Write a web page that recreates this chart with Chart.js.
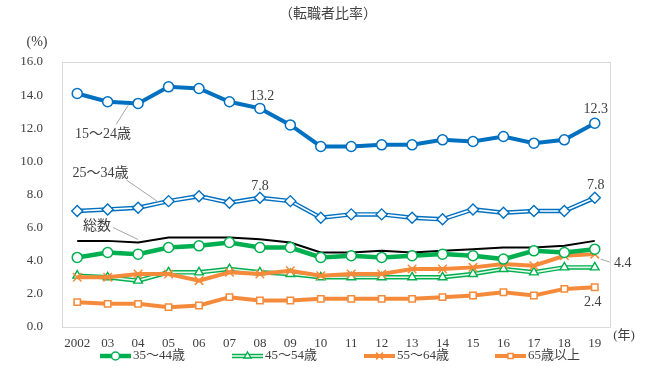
<!DOCTYPE html>
<html>
<head>
<meta charset="utf-8">
<script src="https://cdn.jsdelivr.net/npm/chart.js@4/dist/chart.umd.min.js"></script>
<style>
body{margin:0;background:#fff;}
</style>
</head>
<body>
<canvas id="jobChart" width="647" height="367"></canvas>
<script>
// 年（x軸）
var years = ['2002','03','04','05','06','07','08','09','10','11','12','13','14','15','16','17','18','19'];
// 転職者比率 (%)
var total     = [5.2,5.2,5.1,5.4,5.4,5.4,5.3,5.1,4.5,4.5,4.6,4.5,4.6,4.7,4.8,4.8,4.9,5.2];
var age15_24  = [14.1,13.6,13.5,14.5,14.4,13.6,13.2,12.2,10.9,10.9,11.0,11.0,11.3,11.2,11.5,11.1,11.3,12.3];
var age25_34  = [7.0,7.1,7.2,7.6,7.9,7.5,7.8,7.6,6.6,6.8,6.8,6.6,6.5,7.1,6.9,7.0,7.0,7.8];
var age35_44  = [4.2,4.5,4.4,4.8,4.9,5.1,4.8,4.8,4.2,4.3,4.2,4.3,4.4,4.3,4.1,4.6,4.5,4.7];
var age45_54  = [3.1,3.0,2.8,3.3,3.3,3.5,3.3,3.2,3.0,3.0,3.0,3.0,3.0,3.2,3.5,3.3,3.6,3.6];
var age55_64  = [3.0,3.0,3.2,3.2,2.8,3.3,3.2,3.4,3.1,3.2,3.2,3.5,3.5,3.6,3.8,3.7,4.3,4.4];
var age65over = [1.5,1.4,1.4,1.2,1.3,1.8,1.6,1.6,1.7,1.7,1.7,1.7,1.8,1.9,2.1,1.9,2.3,2.4];
// y軸目盛
var yTicks = [0,2,4,6,8,10,12,14,16];

var BLUE = '#0070C0', GREEN = '#00B050', ORANGE = '#F58A3A';
var SERIF = "'Liberation Serif', 'Noto Sans CJK JP', serif";
var TEXT = '#404040';

// 二重線（外側 + 内側の白線 + マーカー）を作る
function doubleLine(label, data, color, inner, style, r, order){
	return [
		{label:label, data:data, borderColor:color, borderWidth:4.5, pointRadius:0, order:order+2},
		{label:label+'_in', data:data, borderColor:inner, borderWidth:1.6, pointRadius:0, order:order+1},
		{label:label+'_pt', data:data, showLine:false, pointStyle:style, pointRadius:r, pointBorderWidth:1.4,
			pointBackgroundColor:'#fff', pointBorderColor:color, borderColor:color, order:order}
	];
}
function line(label, data, color, width, style, r, order){
	return {label:label, data:data, borderColor:color, borderWidth:width, pointStyle:style,
		pointRadius:r, pointBorderWidth:1.5, pointBackgroundColor:'#fff', pointBorderColor:color, order:order};
}

var datasets = [
	line('15～24歳', age15_24, BLUE, 4, 'circle', 5, 0),
	line('総数', total, '#000', 2, 'circle', 0, 20),
	line('35～44歳', age35_44, GREEN, 4.5, 'circle', 5, 10),
	line('55～64歳', age55_64, ORANGE, 4, 'crossRot', 6, 12),
	line('65歳以上', age65over, ORANGE, 4, 'rect', 4.5, 14)
].concat(doubleLine('25～34歳', age25_34, BLUE, '#fff', 'rectRot', 5.5, 2))
 .concat(doubleLine('45～54歳', age45_54, GREEN, '#e6f6ea', 'triangle', 5, 15));

function dsByLabel(chart, label){
	return chart.data.datasets.findIndex(function(d){ return d.label == label; });
}

// 直接ラベル（データ点からのずらし量）
var notes = [
	{ds:'15～24歳', i:6, text:'13.2', dx:2, dy:-12},
	{ds:'15～24歳', i:17, text:'12.3', dx:1, dy:-14},
	{ds:'25～34歳_pt', i:6, text:'7.8', dx:0, dy:-11},
	{ds:'25～34歳_pt', i:17, text:'7.8', dx:1, dy:-12},
	{ds:'55～64歳', i:17, text:'4.4', dx:28, dy:9, lead:[6,5,15,8]},
	{ds:'65歳以上', i:17, text:'2.4', dx:-2, dy:15}
];
// 引き出し線つきの系列名
var tags = [
	{ds:'15～24歳', i:2, text:'15～24歳', dx:-35, dy:31, lead:[-10,2,-22,21]},
	{ds:'25～34歳_pt', i:3, text:'25～34歳', dx:-68, dy:-28, lead:[-10,1,-42,-21]},
	{ds:'総数', i:2, text:'総数', dx:-41, dy:-16, lead:[0,-3,-25,-15]}
];
// 凡例
var legendItems = [
	{ds:'35～44歳', x:100, text:'35～44歳'},
	{ds:'45～54歳_pt', x:232, text:'45～54歳', dbl:'45～54歳'},
	{ds:'55～64歳', x:364, text:'55～64歳'},
	{ds:'65歳以上', x:495, text:'65歳以上'}
];

function drawMarker(ctx, ds, x, y, scale){
	ctx.save();
	ctx.fillStyle = ds.pointBackgroundColor;
	ctx.strokeStyle = ds.pointBorderColor;
	ctx.lineWidth = ds.pointBorderWidth;
	Chart.helpers.drawPoint(ctx, {pointStyle:ds.pointStyle, radius:ds.pointRadius*scale, borderWidth:ds.pointBorderWidth, rotation:0}, x, y);
	ctx.restore();
}

var decor = {
	id:'decor',
	beforeDraw:function(chart){
		var ctx = chart.ctx, a = chart.chartArea;
		ctx.save();
		ctx.fillStyle = '#fff';
		ctx.fillRect(0,0,chart.width,chart.height);
		ctx.strokeStyle = '#d9d9d9';
		ctx.lineWidth = 1;
		ctx.strokeRect(Math.round(a.left)+0.5, Math.round(a.top)+0.5, Math.round(a.right-a.left), Math.round(a.bottom-a.top));
		ctx.restore();
	},
	afterDatasetsDraw:function(chart){
		var ctx = chart.ctx;
		ctx.save();
		ctx.fillStyle = TEXT;
		ctx.textAlign = 'center';
		ctx.textBaseline = 'middle';
		ctx.font = '14px ' + SERIF;
		ctx.fillText('（転職者比率）', 328, 14);
		ctx.fillText('(%)', 37, 42);
		ctx.font = '13px ' + SERIF;
		ctx.fillText('(年)', 624, 336);

		// 数値ラベルと系列名
		ctx.font = '14px ' + SERIF;
		notes.concat(tags).forEach(function(n){
			var el = chart.getDatasetMeta(dsByLabel(chart, n.ds)).data[n.i];
			if(n.lead){
				ctx.strokeStyle = '#a6a6a6';
				ctx.lineWidth = 1;
				ctx.beginPath();
				ctx.moveTo(el.x + n.lead[0], el.y + n.lead[1]);
				ctx.lineTo(el.x + n.lead[2], el.y + n.lead[3]);
				ctx.stroke();
			}
			ctx.fillStyle = TEXT;
			ctx.fillText(n.text, el.x + n.dx, el.y + n.dy);
		});

		// 凡例
		var ly = 356;
		ctx.textAlign = 'left';
		ctx.font = '13px ' + SERIF;
		legendItems.forEach(function(it){
			var ds = chart.data.datasets[dsByLabel(chart, it.ds)];
			if(it.dbl){
				var outer = chart.data.datasets[dsByLabel(chart, it.dbl)];
				var inner = chart.data.datasets[dsByLabel(chart, it.dbl + '_in')];
				[outer, inner].forEach(function(d){
					ctx.strokeStyle = d.borderColor; ctx.lineWidth = d.borderWidth;
					ctx.beginPath(); ctx.moveTo(it.x, ly); ctx.lineTo(it.x+31, ly); ctx.stroke();
				});
			}else{
				ctx.strokeStyle = ds.borderColor; ctx.lineWidth = ds.borderWidth;
				ctx.beginPath(); ctx.moveTo(it.x, ly); ctx.lineTo(it.x+31, ly); ctx.stroke();
			}
			drawMarker(ctx, ds, it.x+15.5, ly, 0.8);
			ctx.fillStyle = TEXT;
			ctx.fillText(it.text, it.x+33, ly);
		});
		ctx.restore();
	}
};

var jobChart = new Chart(document.getElementById('jobChart'), {
	type:'line',
	data:{ labels:years, datasets:datasets },
	options:{
		responsive:false,
		animation:false,
		layout:{ padding:{top:62, right:37, left:0, bottom:0} },
		elements:{ line:{tension:0, fill:false} },
		plugins:{ legend:{display:false}, tooltip:{enabled:false} },
		scales:{
			x:{
				offset:true,
				grid:{display:false, drawTicks:false}, border:{display:false},
				ticks:{color:TEXT, font:{family:SERIF, size:13}, maxRotation:0, autoSkip:false, padding:9},
				afterFit:function(s){ s.height = 40; }
			},
			y:{
				min:yTicks[0], max:yTicks[yTicks.length-1],
				grid:{display:false}, border:{display:false},
				afterBuildTicks:function(s){ s.ticks = yTicks.map(function(v){ return {value:v}; }); },
				ticks:{color:TEXT, font:{family:SERIF, size:13}, padding:11, callback:function(v){ return v.toFixed(1); }},
				afterFit:function(s){ s.width = 62; }
			}
		}
	},
	plugins:[decor]
});
</script>
</body>
</html>
